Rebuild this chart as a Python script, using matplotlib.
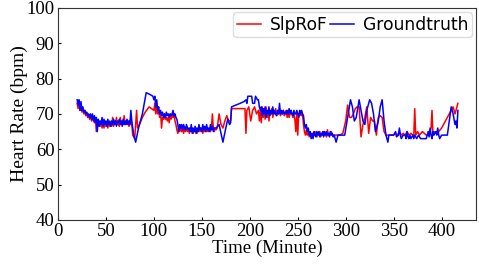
import matplotlib
matplotlib.use("Agg")
import matplotlib.pyplot as plt

gt = [
(20,74),(21,72.5),(22,74),(23,71),(24,73.5),(25,71),(26,72),(27,70.5),(28,71),(29,70),
(30,70.5),(31,69.5),(32,70),(33,69),(34,70),(35,68.5),(36,70),(37,68),(38,69.5),(39,67.5),
(40,69),(41,65),(42,68.5),(43,66.5),(44,68),(45,67),(46,69),(47,66.5),(48,68.5),(49,67),
(50,68),(51,66.5),(52,68.5),(53,67),(54,68),(55,66.5),(56,68),(57,67),(58,68.5),(59,67),
(60,68),(61,66.5),(62,68),(63,67.5),(64,68.5),(65,67),(66,68),(67,66.5),(68,68.5),(69,67),
(70,68),(71,67),(72,68.5),(73,67),(74,68),(75,67),(76,71),(77,68),(78,66),(79,64),
(81,62),(84,66),(88,70),(92,76),(96,75.5),(99,75),(100,74),(101,75),(102,72),(103,74),
(104,71),(105,72),(106,70),(107,71),(108,69.5),(109,70.5),(110,69),(111,70),(112,69),(113,70.5),
(114,69.5),(115,70),(116,69),(117,70),(118,69.5),(119,70),(120,71),(121,69.5),(122,70),(123,69),
(124,68.5),(125,67),(126,65),(127,67),(128,66),(129,67),(130,65.5),(131,67),(132,66),(133,65.5),
(134,67),(135,66),(136,65.5),(137,66),(138,65),(139,67),(140,64.5),(141,66),(142,65),(143,66.5),
(144,64.5),(145,66),(146,65),(147,67),(148,65.5),(149,66),(150,65),(151,67),(152,65.5),(153,66.5),
(154,65),(155,67),(156,65.5),(157,66),(158,65),(159,67),(160,65.5),(161,66.5),(162,65),(163,66),
(165,66),(168,67),(172,62),(175,66),(177,68.5),(179,67),(180,67.5),(181,72),(190,73),(194,73.5),
(196,74),(197,73),(198,75),(200,75),(202,75),(203,73),(205,73),(206,75),(208,74),(209,74),
(210,72),(211,71),(212,72),(213,69.5),(214,71.5),(215,70),(216,72),(217,69),(218,71),(219,70),
(220,72),(221,69.5),(222,71),(223,70),(224,72),(225,70),(226,71),(227,70),(228,69.5),(229,71),
(230,70),(231,73),(232,70),(233,71),(234,70),(235,71),(236,70),(237,70.5),(238,70),(239,71),
(240,70),(241,71.5),(242,70),(243,71),(244,70),(245,69.5),(246,71),(247,70),(248,70),(249,71),
(250,70),(251,69),(252,71),(253,70),(254,71),(255,70),(256,69.5),(257,67),(258,66),(259,67),
(260,65),(261,66),(262,64),(263,65),(264,63),(265,64.5),(266,63),(267,65),(268,64),(269,63.5),
(270,65),(271,64),(272,65),(273,63.5),(274,64.5),(275,64),(276,65),(277,63.5),(278,65),(279,64),
(280,65),(281,64),(282,64.5),(283,63.5),(284,65),(285,64),(286,64.5),(287,63.5),(288,64),(290,62),
(292,64),(296,64),(299,64),(302,69),(305,74),(307,72),(309,68),(311,69),(314,74),(316,71),
(318,68),(320,67),(322,71),(325,74),(327,73),(329,70),(331,65),(334,68),(336,72),(338,74),
(340,68),(342,64),(344,62),(345,64),(348,64),(350,64),(352,65),(353,63.5),(355,64),(356,66),
(357,64),(358,63),(360,64),(362,64),(363,63),(364,65),(365,63.5),(366,63),(367,64),(368,63),
(370,64),(371,63),(372,64),(374,63),(376,64),(378,63),(380,63),(382,63),(384,63),(386,65),
(387,63.5),(388,66),(389,64),(390,63),(391,65),(392,64),(394,65),(395,64),(396,66),(397,64),
(398,63),(400,64),(404,64),(406,64),(410,72),(412,70),(414,67),(415,68),(416,66),(417,71),
]

pred = [
(20,73),(21,71.5),(22,73),(23,71),(24,72),(25,70.5),(26,71.5),(27,70),(28,71),(29,69.5),
(30,70),(31,69),(32,69.5),(33,68.5),(34,69.5),(35,68),(36,69),(37,68.5),(38,67.5),(39,69),
(40,65),(41,68),(42,67),(43,68),(44,66.5),(45,68),(46,66),(47,67.5),(48,66),(49,68),
(50,66.5),(51,67.5),(52,66),(53,67.5),(54,66.5),(55,67),(56,66.5),(57,69),(58,66.5),(59,68),
(60,67),(61,69),(62,67),(63,67.5),(64,66.5),(65,69),(66,67),(67,68),(68,67),(69,69.5),
(70,67),(71,68),(72,67),(73,68),(74,66.5),(75,67),(76,69),(77,67),(78,64),(80,63),
(82,71),(83,66),(85,67),(88,69),(91,70.5),(95,72),(100,71),(101,73),(102,70),(103,72.5),
(104,70),(105,71),(106,69),(107,70.5),(108,66),(109,69),(110,68.5),(111,70),(112,68.5),(113,69),
(114,68),(115,69),(116,67.5),(117,70),(118,68.5),(119,70),(120,69),(121,70),(122,68),(123,67),
(124,65.5),(125,64.5),(126,66),(127,65),(128,66.5),(129,65),(130,66),(131,64.5),(132,66),(133,65),
(134,66.5),(135,65),(136,66),(137,64.5),(138,66),(139,65),(140,66),(141,64.5),(142,65.5),(143,65),
(144,66),(145,64.5),(146,65.5),(147,65),(148,66),(149,65),(150,66),(151,64.5),(152,65.5),(153,65),
(154,66),(155,65),(156,65.5),(157,65),(158,66),(159,65),(160,66),(161,70),(162,66),(163,65),
(164,66),(165,65.5),(166,66),(167,68),(168,70),(170,67),(172,66),(174,68),(176,69.5),(178,68),
(180,68),(181,71.5),(189,71.5),(195,71.5),(196,64.5),(197,71),(199,72),(201,68),(203,71),(205,72),
(207,70),(209,71),(210,68),(211,71),(212,67.5),(213,72),(214,69),(215,71.5),(216,68.5),(217,72),
(218,69),(219,71),(220,68),(221,71),(222,70),(223,71.5),(224,69),(225,71),(226,70),(227,71.5),
(228,69.5),(229,71),(230,70),(231,71),(232,69.5),(233,70.5),(234,70),(235,71),(236,69.5),(237,70),
(238,71),(239,69),(240,70.5),(241,69),(242,70),(243,71),(244,70),(245,69),(246,70),(247,68.5),
(248,65),(249,70),(250,64),(251,70),(252,69.5),(253,70),(254,69.5),(255,70),(256,67),(257,65),
(258,64),(259,65.5),(260,64),(261,65),(262,63.5),(263,64.5),(264,63.5),(265,64.5),(266,63.5),(267,64.5),
(268,64),(269,65),(270,63.5),(271,64.5),(272,64),(273,65),(274,63.5),(275,64.5),(276,64),(277,65),
(278,64),(279,64.5),(280,63.5),(281,65.5),(282,64),(283,64.5),(284,64),(285,65),(286,64),(287,64),
(290,64),(294,64),(297,64.5),(300,68),(302,72.5),(304,69),(306,69),(308,70),(310,71.5),(312,72),
(314,72),(316,63.5),(318,67),(320,69),(322,72),(324,64.5),(326,69),(328,68),(330,68),(332,64),
(334,69),(336,69.5),(338,69),(340,65),(342,64),(346,64),(350,64),(352,64.5),(354,64),(356,65),
(358,64),(360,64.5),(362,64),(364,65),(366,64),(368,64.5),(370,64),(371,64),(372,71.5),(373,64),
(375,65),(377,64),(380,65),(382,64.5),(384,64),(386,64),(388,65),(389,66),(390,71),(391,64),
(393,65),(395,64.5),(397,65),(400,66),(404,68),(408,70),(412,72),(414,70),(416,72),(417,73),
]

gt_t = [p[0] for p in gt]
gt_v = [p[1] for p in gt]
pred_t = [p[0] for p in pred]
pred_v = [p[1] for p in pred]

xticks = [0, 50, 100, 150, 200, 250, 300, 350, 400]
yticks = [40, 50, 60, 70, 80, 90, 100]

fig = plt.figure(figsize=(4.79, 2.64), dpi=100)
ax = fig.add_axes([0.121, 0.167, 0.873, 0.803])
ax.plot(pred_t, pred_v, color="red", lw=1.1, label="SlpRoF")
ax.plot(gt_t, gt_v, color="blue", lw=1.1, label="Groundtruth")
ax.set_xlim(0, 436)
ax.set_ylim(40, 100)
ax.set_xticks(xticks)
ax.set_yticks(yticks)
for lab in ax.get_xticklabels() + ax.get_yticklabels():
    lab.set_family("Liberation Serif")
    lab.set_fontsize(13.5)
ax.tick_params(direction="in", length=2)
ax.tick_params(axis="x", pad=2)
ax.tick_params(axis="y", pad=2.5)
ax.set_xlabel("Time (Minute)", family="Liberation Serif", fontsize=13.5, labelpad=0)
ax.set_ylabel("Heart Rate (bpm)", family="Liberation Serif", fontsize=14, labelpad=-1)
for s in ax.spines.values():
    s.set_color("#333333")
leg = ax.legend(loc="upper right", ncol=2, fontsize=12.3, handlelength=1.4,
                columnspacing=0.1, handletextpad=0.55, borderpad=0.2,
                borderaxespad=0.25, framealpha=1)
leg.get_frame().set_edgecolor("#dddddd")
fig.savefig("out.png", dpi=100)
